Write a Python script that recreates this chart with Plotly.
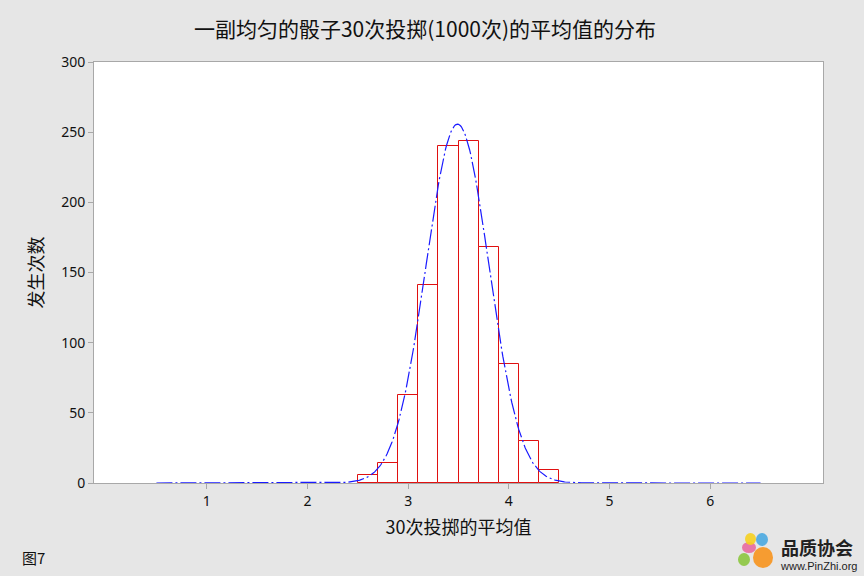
import numpy as np
import plotly.graph_objects as go

# ---- data ----
bin_centers = [2.6, 2.8, 3.0, 3.2, 3.4, 3.6, 3.8, 4.0, 4.2, 4.4]
bin_counts = [6, 14, 63, 141, 240, 244, 168, 85, 30, 9]
bin_width = 0.2
n_total = 1000
fit_mean = 3.49
fit_sd = 0.312
curve_start, curve_end = 0.5, 6.5
x_ticks = [1, 2, 3, 4, 5, 6]
y_ticks = [0, 50, 100, 150, 200, 250, 300]

title_text = "一副均匀的骰子30次投掷(1000次)的平均值的分布"
x_title = "30次投掷的平均值"
y_title = "发生次数"

# fitted normal curve (scaled to counts)
xc = np.linspace(curve_start, curve_end, 601)
yc = n_total * bin_width / (fit_sd * np.sqrt(2 * np.pi)) * np.exp(-0.5 * ((xc - fit_mean) / fit_sd) ** 2)

FONT = "Segoe UI, Noto Sans, Noto Sans CJK SC, sans-serif"
CJK = "Microsoft YaHei, Noto Sans CJK SC, sans-serif"

fig = go.Figure()
fig.add_trace(go.Bar(
    x=bin_centers, y=bin_counts, width=bin_width,
    marker=dict(color="white", line=dict(color="#e01010", width=1)),
    hoverinfo="x+y", showlegend=False,
))
fig.add_trace(go.Scatter(
    x=xc, y=yc, mode="lines",
    line=dict(color="#1a1aff", width=1.2, dash="16px,3px,2px,3px"),
    showlegend=False,
))

L, R, T, B = 94, 823, 62, 483
W, H = 864, 576

axis_common = dict(
    showline=True, linecolor="#a8a8a8", linewidth=1, mirror=True,
    ticks="outside", ticklen=5, tickcolor="#a8a8a8", tickwidth=1,
    showgrid=False, zeroline=False,
    tickfont=dict(family=FONT, size=14, color="#111111"),
)

fig.update_layout(
    width=W, height=H,
    paper_bgcolor="#e6e6e6", plot_bgcolor="white",
    margin=dict(l=L, r=W - R, t=T, b=H - B, pad=0),
    bargap=0,
    title=dict(text=title_text, x=425 / W, xref="container", xanchor="center",
               y=1 - 30 / H, yref="container", yanchor="middle",
               font=dict(family=CJK, size=21, color="#111111")),
    xaxis=dict(range=[-0.12, 7.12], tickvals=x_ticks, **axis_common,
               title=dict(text=x_title, font=dict(family=CJK, size=18, color="#111111"), standoff=12)),
    yaxis=dict(range=[0, 300], tickvals=y_ticks, **axis_common,
               title=dict(text=y_title, font=dict(family=CJK, size=18, color="#111111"), standoff=12)),
)

def px(xp):
    return (xp - L) / (R - L)

def py(yp):
    return (B - yp) / (B - T)

# footer label
fig.add_annotation(text="图7", x=px(20), y=py(557), xref="paper", yref="paper",
                   xanchor="left", yanchor="middle", showarrow=False,
                   font=dict(family=CJK, size=15, color="#111111"))

# logo blobs
blobs = [
    (756, 533, 768, 546, "#4aa8e0"),
    (742, 542, 756, 553, "#e86aa0"),
    (745, 533, 756, 545, "#f5d020"),
    (738, 553, 750, 566, "#8cc63f"),
    (753, 547, 773, 568, "#f7941d"),
]
for x0, y0, x1, y1, c in blobs:
    fig.add_shape(type="circle", xref="paper", yref="paper",
                  x0=px(x0), x1=px(x1), y0=py(y1), y1=py(y0),
                  fillcolor=c, line=dict(width=0), opacity=0.9)
fig.add_annotation(text="<b>品质协会</b>", x=px(817), y=py(547), xref="paper", yref="paper",
                   xanchor="center", yanchor="middle", showarrow=False,
                   font=dict(family=CJK, size=18, color="#222222"))
fig.add_annotation(text="www.PinZhi.org", x=px(818), y=py(566), xref="paper", yref="paper",
                   xanchor="center", yanchor="middle", showarrow=False,
                   font=dict(family="Liberation Sans, Arial, sans-serif", size=11, color="#222222"))

fig.write_html("out.html", config={"displayModeBar": False},
               post_script="document.body.style.margin='0';document.body.style.overflow='hidden';")
